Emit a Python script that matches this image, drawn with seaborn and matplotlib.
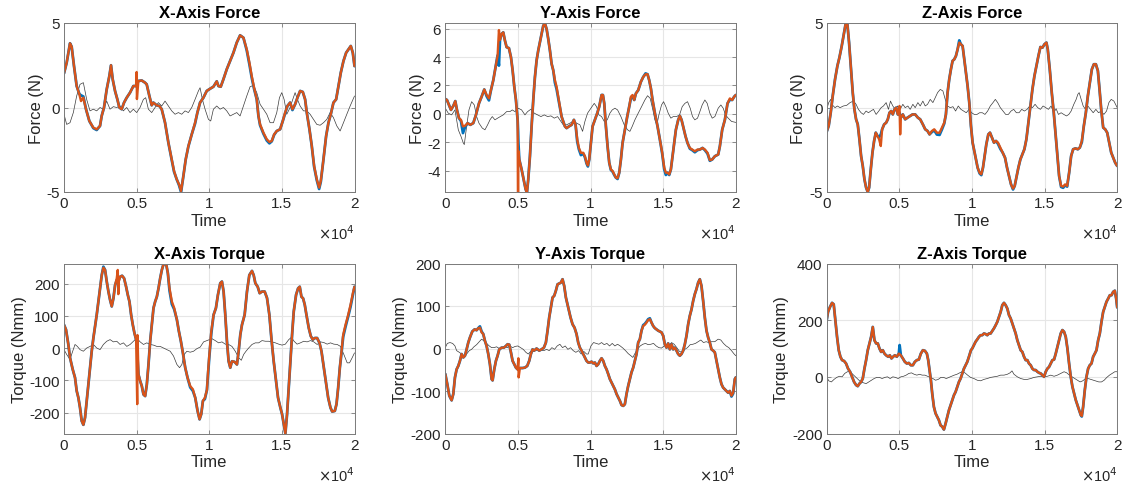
import matplotlib
matplotlib.use("Agg")
import matplotlib.pyplot as plt
from matplotlib.ticker import FuncFormatter, FixedLocator
import seaborn as sns

# ---------------- X-axis force ----------------
t_fx = [0, 184, 413, 528, 689, 872, 1056, 1171, 1332, 1515,
        1745, 2020, 2250, 2480, 2594, 2755, 2939, 3122, 3237, 3352,
        3513, 3674, 3811, 3972, 4133, 4316, 4546, 4776, 4959, 5000,
        5020, 5120, 5350, 5579, 5694, 5878, 6038, 6153, 6383, 6567,
        6727, 6957, 7186, 7416, 7577, 7760, 7921, 8059, 8220, 8380,
        8564, 8794, 9023, 9184, 9368, 9597, 9827, 10056, 10286, 10516,
        10630, 10791, 10975, 11204, 11434, 11664, 11893, 12123, 12353, 12582,
        12766, 12926, 13087, 13271, 13386, 13500, 13730, 13960, 14143, 14304,
        14465, 14648, 14878, 15062, 15222, 15383, 15567, 15728, 15911, 16072,
        16256, 16440, 16600, 16715, 16899, 17059, 17220, 17404, 17564, 17679,
        17863, 18046, 18207, 18368, 18551, 18735, 18896, 19057, 19240, 19424,
        19585, 19746, 19883, 20000]
fx_meas = [2.02, 2.65, 3.8, 3.6, 2.45, 1.27, 0.8, 0.72, 0.65, -0.1,
           -0.8, -1.22, -1.33, -1.09, -0.5, 0.0, 1.07, 1.86, 2.5, 1.67,
           0.98, 0.48, 0.0, -0.1, 0.29, 0.58, 0.88, 1.27, 1.27, 1.3,
           1.35, 1.57, 1.6, 1.47, 1.37, 0.68, 0.13, 0.29, 0.13, 0.09,
           -0.1, -0.9, -2.08, -3.1, -3.8, -4.25, -4.6, -5.0, -4.05, -3.07,
           -2.3, -1.59, -0.95, -0.3, 0.29, 0.58, 0.98, 1.11, 1.23, 1.55,
           1.27, 1.23, 1.67, 2.26, 2.75, 3.24, 3.84, 4.27, 4.13, 3.38,
           2.55, 1.76, 1.1, 0.48, -0.5, -1.05, -1.55, -1.95, -2.12, -2.0,
           -1.62, -1.39, -1.29, -0.8, -0.35, 0.09, 0.29, -0.15, 0.19, 0.58,
           0.98, 0.92, 0.48, -0.3, -1.29, -2.28, -3.5, -4.3, -4.82, -4.4,
           -3.07, -1.69, -0.9, -0.4, 0.29, 0.48, 1.27, 2.06, 2.75, 3.24,
           3.44, 3.64, 3.24, 2.45]
fx_pred = [2.02, 2.65, 3.8, 3.6, 2.45, 1.27, 0.78, 0.38, 0.58, -0.1,
           -0.8, -1.19, -1.29, -1.09, -0.5, 0.0, 1.07, 1.86, 2.5, 1.67,
           0.98, 0.48, 0.0, -0.1, 0.29, 0.58, 0.88, 1.27, 1.27, 2.1,
           0.5, 1.57, 1.6, 1.47, 1.37, 0.68, 0.13, 0.29, 0.13, 0.09,
           -0.1, -0.9, -2.08, -3.07, -3.76, -4.25, -4.55, -4.94, -4.05, -3.07,
           -2.28, -1.59, -0.9, -0.3, 0.29, 0.58, 0.98, 1.11, 1.23, 1.55,
           1.27, 1.23, 1.67, 2.26, 2.75, 3.24, 3.84, 4.27, 4.13, 3.44,
           2.65, 1.86, 1.17, 0.48, -0.5, -1.0, -1.49, -1.88, -2.04, -1.98,
           -1.59, -1.39, -1.29, -0.8, -0.3, 0.09, 0.29, -0.1, 0.19, 0.58,
           0.98, 0.92, 0.48, -0.3, -1.29, -2.28, -3.46, -4.25, -4.74, -4.35,
           -3.07, -1.69, -0.9, -0.4, 0.29, 0.48, 1.27, 2.06, 2.75, 3.24,
           3.44, 3.64, 3.24, 2.45]
t_fx_err = [0, 184, 413, 643, 872, 1102, 1332, 1561, 1791, 2020,
            2250, 2480, 2709, 2939, 3168, 3398, 3628, 3857, 4087, 4316,
            4546, 4776, 5005, 5235, 5464, 5625, 5809, 6038, 6268, 6498,
            6727, 6957, 7186, 7416, 7646, 7875, 8105, 8334, 8564, 8794,
            9023, 9253, 9368, 9528, 9712, 9942, 10102, 10286, 10516, 10745,
            10975, 11204, 11434, 11664, 11893, 12123, 12353, 12582, 12812, 13041,
            13271, 13500, 13730, 13960, 14189, 14419, 14648, 14832, 14993, 15154,
            15337, 15567, 15751, 15911, 16072, 16256, 16486, 16715, 16945, 17174,
            17404, 17633, 17863, 18093, 18322, 18551, 18781, 19011, 19240, 19470,
            19700, 20000]
fx_err = [-0.4, -1.0, -0.9, -0.3, 0.68, 1.37, 1.47, 0.48, -0.2, -0.1,
          -0.2, 0.0, -0.1, 0.38, -0.1, 0.05, 0.0, 0.09, -0.2, 0.0,
          -0.3, -0.1, -0.3, 0.0, 0.48, 0.58, -0.1, -0.3, 0.0, 0.29,
          0.09, 0.38, 0.09, -0.2, -0.4, -0.3, -0.4, -0.2, -0.3, 0.0,
          0.48, 0.98, 1.17, 0.48, -0.1, -0.7, -0.8, -0.1, 0.09, -0.1,
          0.0, -0.2, -0.5, -0.4, -0.3, -0.5, 0.09, 0.68, 1.23, 1.31,
          0.88, 0.19, -0.1, -0.4, -0.9, -0.9, -0.3, 0.58, 0.88, 0.48,
          -0.4, 0.0, 0.48, 0.88, 0.48, 0.09, -0.2, -0.2, -0.4, -0.7,
          -1.0, -1.05, -0.9, -0.7, -0.3, -0.6, -1.09, -1.39, -0.9, -0.4,
          0.09, 0.68]

# ---------------- Y-axis force ----------------
t_fy = [0, 115, 252, 390, 550, 688, 803, 941, 1078, 1216,
        1353, 1537, 1720, 1927, 2110, 2317, 2500, 2684, 2845, 3005,
        3143, 3303, 3464, 3602, 3693, 3762, 3877, 3991, 4106, 4221,
        4381, 4519, 4634, 4749, 4863, 4978, 5010, 5030, 5093, 5253,
        5414, 5529, 5620, 5712, 5827, 5941, 6056, 6171, 6286, 6400,
        6515, 6630, 6744, 6859, 6974, 7088, 7203, 7318, 7432, 7547,
        7662, 7776, 7891, 8006, 8121, 8236, 8350, 8511, 8694, 8855,
        8969, 9084, 9199, 9336, 9497, 9612, 9727, 9818, 9910, 10025,
        10139, 10300, 10461, 10598, 10759, 10851, 10943, 11057, 11172, 11287,
        11401, 11516, 11631, 11745, 11860, 11975, 12090, 12204, 12365, 12525,
        12663, 12778, 12892, 13007, 13122, 13282, 13466, 13626, 13787, 13924,
        14039, 14154, 14268, 14429, 14613, 14774, 14934, 15072, 15186, 15301,
        15416, 15530, 15645, 15760, 15874, 16035, 16150, 16265, 16402, 16539,
        16677, 16837, 16998, 17181, 17365, 17526, 17709, 17870, 18054, 18214,
        18375, 18559, 18788, 18903, 19063, 19247, 19430, 19591, 19751, 19889,
        20000]
fy_meas = [1.05, 0.98, 0.63, 0.28, 0.56, 0.9, 0.28, -0.3, -0.5, -1.35,
           -0.95, -0.65, -0.77, -0.65, -0.07, 0.74, 1.21, 1.72, 1.25, 0.95,
           1.67, 2.37, 3.3, 4.12, 3.4, 5.2, 5.63, 5.74, 5.16, 4.7,
           4.63, 4.0, 3.07, 1.91, 0.98, -0.42, -1.23, -2.0, -3.21, -3.91,
           -4.72, -5.3, -5.55, -4.6, -2.98, -0.88, 0.98, 2.6, 3.77, 4.47,
           5.05, 5.63, 6.21, 6.37, 5.98, 5.28, 4.47, 3.53, 3.07, 2.2,
           1.75, 1.1, 0.45, -0.19, -0.53, -0.88, -1.0, -0.88, -0.77, -0.42,
           -0.77, -1.95, -2.5, -2.9, -2.8, -3.05, -3.5, -3.7, -3.21, -2.05,
           -0.88, -0.42, 0.05, 0.51, 1.33, 1.33, 0.74, -0.88, -2.28, -3.44,
           -3.95, -4.06, -4.3, -4.49, -4.58, -4.14, -3.21, -2.05, -1.12, -0.19,
           0.51, 1.1, 1.25, 0.98, 1.44, 1.67, 2.26, 2.6, 2.85, 2.79,
           2.37, 1.79, 0.98, 0.05, -0.88, -1.81, -2.8, -3.9, -4.3, -4.14,
           -4.3, -3.91, -2.98, -2.05, -1.12, -0.42, -0.14, -0.42, -1.0, -1.58,
           -2.05, -2.45, -2.55, -2.7, -2.55, -2.51, -2.4, -2.55, -2.8, -3.3,
           -3.21, -2.98, -2.86, -2.28, -1.12, -0.42, 0.74, 1.0, 0.98, 1.21,
           1.33]
fy_pred = [1.05, 0.98, 0.63, 0.28, 0.56, 0.9, 0.28, -0.3, -0.42, -0.88,
           -0.84, -0.65, -0.77, -0.65, -0.07, 0.74, 1.21, 1.72, 1.33, 1.09,
           1.67, 2.37, 3.3, 4.12, 5.9, 5.2, 5.63, 5.74, 5.16, 4.7,
           4.63, 4.0, 3.07, 1.91, 0.98, -0.42, -8.0, -2.6, -3.21, -3.91,
           -4.72, -5.3, -5.55, -4.6, -2.98, -0.88, 0.98, 2.6, 3.77, 4.47,
           5.05, 5.63, 6.21, 6.37, 5.98, 5.28, 4.47, 3.53, 3.07, 2.37,
           1.91, 1.21, 0.51, -0.19, -0.53, -0.88, -1.0, -0.88, -0.77, -0.42,
           -0.77, -1.81, -2.4, -2.74, -2.74, -2.98, -3.44, -3.63, -3.21, -2.05,
           -0.88, -0.42, 0.05, 0.51, 1.33, 1.33, 0.74, -0.88, -2.28, -3.44,
           -3.91, -4.02, -4.26, -4.49, -4.53, -4.14, -3.21, -2.05, -1.12, -0.19,
           0.51, 1.21, 1.33, 0.98, 1.44, 1.67, 2.26, 2.6, 2.79, 2.79,
           2.37, 1.79, 0.98, 0.05, -0.88, -1.81, -2.74, -3.79, -4.14, -4.14,
           -4.26, -3.91, -2.98, -2.05, -1.12, -0.42, -0.14, -0.42, -1.0, -1.58,
           -2.05, -2.4, -2.51, -2.63, -2.51, -2.51, -2.4, -2.51, -2.74, -3.26,
           -3.21, -2.98, -2.86, -2.28, -1.12, -0.42, 0.74, 1.09, 0.98, 1.21,
           1.33]
t_fy_err = [0, 206, 436, 665, 895, 1078, 1239, 1308, 1468, 1629,
            1812, 1996, 2156, 2317, 2546, 2730, 2913, 3074, 3235, 3418,
            3602, 3785, 3991, 4221, 4450, 4611, 4794, 5024, 5253, 5483,
            5666, 5895, 6125, 6354, 6584, 6813, 7043, 7272, 7501, 7731,
            7960, 8121, 8350, 8580, 8809, 9038, 9268, 9451, 9612, 9795,
            10025, 10254, 10415, 10575, 10759, 10943, 11149, 11333, 11493, 11677,
            11860, 12090, 12319, 12548, 12709, 12869, 13053, 13282, 13512, 13741,
            13924, 14108, 14291, 14429, 14567, 14705, 14888, 15026, 15186, 15347,
            15530, 15691, 15920, 16127, 16311, 16494, 16677, 16861, 17021, 17181,
            17365, 17526, 17686, 17870, 18031, 18214, 18375, 18559, 18788, 18972,
            19132, 19293, 19476, 19706, 20000]
fy_err = [0.4, 0.05, -0.07, 0.28, -1.12, -1.58, -2.05, -2.16, -0.88, 0.28,
          0.86, 0.63, -0.19, -0.65, -1.0, -1.12, -0.77, -0.42, -0.19, -0.42,
          -0.3, -0.19, -0.07, 0.16, 0.16, 0.28, 0.16, 0.4, 0.28, -0.07,
          0.16, 0.33, 0.05, -0.07, -0.19, -0.07, -0.19, -0.14, -0.3, -0.19,
          -0.53, -0.77, -0.77, -0.65, -0.53, -0.65, -0.77, -1.23, -0.53, 0.05,
          0.4, 0.74, 0.51, -0.07, -0.19, -0.53, -0.42, 0.05, 0.28, 0.4,
          0.28, -0.19, -0.77, -1.12, -1.23, -0.88, -0.42, 0.05, 0.51, 0.98,
          1.28, 1.09, 0.28, -0.42, -0.77, -0.07, 0.63, 0.86, 0.51, 0.05,
          -0.3, -0.19, -0.19, -0.07, 0.51, 0.74, 0.86, 0.4, -0.19, -0.42,
          -0.3, 0.16, 0.63, 0.98, 0.74, 0.05, -0.3, -0.19, 0.4, 0.63,
          0.4, -0.07, -0.3, -0.53, -0.6]

# ---------------- Z-axis force ----------------
t_fz = [0, 138, 276, 414, 575, 736, 874, 1035, 1195, 1310,
        1425, 1540, 1678, 1793, 1908, 2023, 2138, 2253, 2368, 2483,
        2598, 2713, 2828, 2920, 3035, 3150, 3264, 3379, 3494, 3609,
        3724, 3816, 3954, 4092, 4207, 4322, 4437, 4552, 4667, 4782,
        4897, 5012, 5058, 5104, 5242, 5403, 5564, 5748, 5909, 6092,
        6276, 6437, 6621, 6782, 6943, 7081, 7242, 7403, 7587, 7771,
        7932, 8092, 8207, 8322, 8437, 8552, 8667, 8782, 8897, 9012,
        9127, 9242, 9357, 9472, 9587, 9701, 9816, 9931, 10046, 10161,
        10276, 10391, 10529, 10644, 10759, 10874, 10989, 11127, 11242, 11380,
        11518, 11656, 11794, 11955, 12116, 12277, 12415, 12553, 12691, 12829,
        12943, 13058, 13196, 13334, 13472, 13610, 13748, 13886, 14024, 14162,
        14300, 14438, 14576, 14714, 14852, 14990, 15128, 15219, 15357, 15495,
        15633, 15771, 15886, 16001, 16139, 16277, 16415, 16553, 16691, 16829,
        16967, 17128, 17289, 17427, 17565, 17703, 17841, 17979, 18117, 18255,
        18393, 18531, 18669, 18784, 18899, 19036, 19174, 19312, 19450, 19588,
        19726, 19864, 20000]
fz_meas = [-1.43, -1.09, -0.31, 0.68, 1.67, 2.46, 2.95, 3.64, 4.43, 4.98,
           4.92, 3.84, 2.26, 0.88, -0.11, -0.7, -1.0, -1.88, -2.87, -3.46,
           -4.25, -4.74, -5.0, -4.74, -3.66, -2.67, -1.98, -1.49, -1.68, -1.75,
           -1.6, -1.29, -1.0, -0.9, -0.7, -0.31, -0.21, -0.41, -0.11, -0.01,
           -0.41, -0.3, -0.5, -0.6, -0.41, -0.7, -0.6, -0.5, -0.41, -0.41,
           -0.6, -0.7, -1.0, -1.29, -1.39, -1.59, -1.45, -1.35, -1.6, -1.62,
           -1.3, -0.95, -0.41, 0.88, 1.67, 2.26, 2.76, 2.85, 3.05, 3.44,
           3.97, 3.74, 3.64, 2.85, 2.06, 1.27, 0.29, -1.09, -2.08, -2.57,
           -3.07, -3.56, -3.9, -4.0, -3.56, -2.87, -2.18, -1.59, -1.49, -1.78,
           -2.08, -1.98, -2.15, -2.45, -2.67, -2.97, -3.56, -4.05, -4.55, -4.85,
           -4.64, -4.15, -3.56, -3.07, -2.77, -2.47, -1.88, -0.9, 0.09, 1.07,
           1.86, 2.46, 3.05, 3.58, 3.54, 3.74, 3.84, 3.44, 2.26, 0.88,
           -0.31, -1.69, -2.87, -4.05, -4.7, -4.75, -4.6, -4.68, -3.86, -2.87,
           -2.47, -2.42, -2.47, -2.37, -2.05, -1.09, -0.31, 0.68, 1.47, 2.26,
           2.56, 2.56, 2.17, 1.07, -0.11, -1.19, -1.29, -1.49, -2.08, -2.67,
           -2.97, -3.27, -3.46]
fz_pred = [-1.43, -1.09, -0.31, 0.68, 1.67, 2.46, 2.95, 3.64, 4.43, 4.98,
           4.92, 3.84, 2.26, 0.88, -0.11, -0.7, -1.0, -1.88, -2.87, -3.46,
           -4.25, -4.74, -5.0, -4.74, -3.66, -2.67, -1.98, -1.49, -1.68, -1.88,
           -2.28, -1.29, -1.0, -0.9, -0.7, -0.31, -0.21, -0.41, -0.11, -0.01,
           -0.41, 0.09, -1.59, -0.6, -0.41, -0.7, -0.6, -0.5, -0.41, -0.41,
           -0.6, -0.7, -1.0, -1.29, -1.39, -1.59, -1.39, -1.29, -1.49, -1.49,
           -1.19, -0.9, -0.41, 0.88, 1.67, 2.26, 2.76, 2.85, 3.05, 3.44,
           3.84, 3.74, 3.64, 2.85, 2.06, 1.27, 0.29, -1.09, -2.08, -2.57,
           -3.07, -3.56, -3.86, -3.95, -3.56, -2.87, -2.18, -1.59, -1.49, -1.78,
           -2.08, -1.98, -2.08, -2.37, -2.67, -2.97, -3.56, -4.05, -4.55, -4.8,
           -4.64, -4.15, -3.56, -3.07, -2.77, -2.47, -1.88, -0.9, 0.09, 1.07,
           1.86, 2.46, 3.05, 3.58, 3.54, 3.74, 3.84, 3.44, 2.26, 0.88,
           -0.31, -1.69, -2.87, -4.05, -4.64, -4.68, -4.55, -4.64, -3.86, -2.87,
           -2.47, -2.42, -2.47, -2.37, -1.98, -1.09, -0.31, 0.68, 1.47, 2.26,
           2.56, 2.56, 2.17, 1.07, -0.11, -1.19, -1.29, -1.49, -2.08, -2.67,
           -2.97, -3.27, -3.46]
t_fz_err = [0, 138, 276, 414, 575, 736, 920, 1150, 1379, 1609,
            1839, 2023, 2184, 2368, 2529, 2713, 2874, 3035, 3219, 3403,
            3586, 3747, 3908, 4092, 4253, 4391, 4552, 4713, 4874, 5058,
            5242, 5403, 5587, 5748, 5932, 6092, 6276, 6437, 6621, 6782,
            6943, 7127, 7311, 7472, 7633, 7817, 8000, 8161, 8322, 8506,
            8690, 8874, 9058, 9242, 9426, 9610, 9794, 9977, 10161, 10345,
            10529, 10713, 10897, 11081, 11265, 11449, 11610, 11771, 11955, 12139,
            12323, 12507, 12691, 12875, 13058, 13242, 13426, 13610, 13794, 13978,
            14162, 14346, 14530, 14714, 14898, 15082, 15265, 15449, 15633, 15794,
            15955, 16139, 16323, 16507, 16668, 16829, 17013, 17174, 17289, 17381,
            17519, 17657, 17818, 17979, 18163, 18347, 18531, 18715, 18899, 19082,
            19266, 19427, 19588, 19772, 20000]
fz_err = [-0.11, 0.29, 0.48, 0.13, -0.01, 0.09, -0.01, 0.09, 0.13, 0.29,
          0.38, 0.19, -0.11, -0.31, -0.41, -0.21, -0.31, -0.21, -0.11, -0.41,
          -0.21, -0.01, 0.09, 0.29, -0.11, 0.38, 0.09, -0.11, 0.09, -0.11,
          0.19, -0.01, 0.09, -0.11, 0.19, -0.01, 0.29, 0.09, 0.38, 0.09,
          0.19, 0.48, 0.29, 0.58, 0.88, 1.07, 0.98, 0.48, 0.09, -0.01,
          0.05, -0.21, 0.09, -0.11, -0.21, -0.31, -0.11, -0.31, -0.41, -0.41,
          -0.31, -0.31, -0.41, -0.21, 0.09, 0.29, 0.48, 0.29, -0.01, -0.21,
          -0.41, -0.41, -0.21, -0.11, -0.31, -0.31, -0.11, -0.21, -0.11, 0.09,
          -0.01, 0.19, -0.01, -0.11, 0.09, -0.01, -0.11, 0.09, -0.31, -0.07,
          -0.41, -0.31, -0.41, -0.5, -0.41, -0.21, 0.19, 0.48, 0.78, 0.88,
          0.48, 0.09, -0.11, 0.09, -0.11, -0.31, -0.11, -0.31, -0.21, -0.41,
          -0.21, 0.29, 0.48, 0.38, -0.01]

# ---------------- X-axis torque ----------------
t_tx = [0, 138, 299, 414, 598, 759, 874, 989, 1103, 1218,
        1333, 1448, 1563, 1678, 1793, 1908, 2023, 2138, 2253, 2368,
        2483, 2598, 2713, 2828, 2943, 3058, 3173, 3287, 3402, 3517,
        3632, 3701, 3740, 3770, 3862, 4000, 4138, 4276, 4391, 4506,
        4621, 4736, 4851, 4966, 5040, 5060, 5127, 5242, 5357, 5472,
        5587, 5702, 5817, 5932, 6047, 6162, 6277, 6392, 6506, 6621,
        6736, 6851, 7035, 7150, 7265, 7426, 7587, 7771, 7909, 8047,
        8185, 8346, 8506, 8690, 8874, 9035, 9196, 9334, 9449, 9564,
        9700, 9840, 9920, 10000, 10140, 10299, 10460, 10598, 10759, 10874,
        10988, 11103, 11218, 11333, 11448, 11563, 11747, 11908, 12023, 12138,
        12253, 12437, 12598, 12759, 12943, 13058, 13173, 13334, 13472, 13633,
        13816, 13977, 14138, 14276, 14437, 14598, 14736, 14897, 15012, 15127,
        15242, 15357, 15472, 15587, 15702, 15817, 15978, 16116, 16231, 16346,
        16461, 16576, 16691, 16852, 16990, 17128, 17266, 17427, 17588, 17726,
        17887, 18048, 18186, 18347, 18462, 18646, 18761, 18876, 18991, 19106,
        19221, 19382, 19566, 19727, 19888, 20000]
tx_meas = [72, 57, 11, -30, -66, -92, -133, -154, -185, -226,
           -238, -216, -164, -113, -61, -10, 31, 67, 103, 144,
           185, 226, 252, 242, 206, 175, 149, 129, 154, 195,
           210, 214, 212, 210, 221, 224, 216, 190, 165, 144,
           103, 72, 46, 26, 0, -30, -82, -102, -118, -144,
           -149, -113, -51, 21, 72, 124, 144, 159, 185, 216,
           242, 260, 260, 232, 178, 136, 120, 88, 52, 21,
           -15, -61, -92, -122, -133, -154, -195, -221, -205, -164,
           -158, -130, -80, -30, 45, 103, 124, 165, 201, 206,
           175, 103, 21, -41, -61, -41, -43, -51, -10, 41,
           72, 103, 175, 226, 239, 226, 201, 190, 170, 175,
           175, 155, 103, 31, -41, -102, -154, -185, -205, -236,
           -265, -205, -123, -41, 41, 113, 165, 185, 190, 159,
           154, 134, 103, 62, 37, 26, 31, 31, 16, -10,
           -61, -113, -154, -185, -197, -195, -174, -123, -61, -15,
           35, 66, 98, 128, 165, 190]
tx_pred = [72, 57, 11, -30, -66, -92, -133, -154, -185, -226,
           -238, -216, -164, -113, -61, -10, 31, 67, 103, 144,
           185, 226, 249, 242, 206, 175, 149, 129, 154, 195,
           216, 242, 167, 206, 221, 224, 216, 190, 165, 144,
           103, 72, 46, 26, -174, 40, -82, -102, -118, -144,
           -149, -113, -51, 21, 72, 124, 144, 159, 185, 216,
           242, 260, 260, 232, 185, 144, 124, 88, 52, 21,
           -15, -61, -92, -118, -128, -154, -195, -221, -205, -164,
           -154, -130, -72, -25, 52, 103, 124, 165, 201, 206,
           175, 103, 21, -41, -61, -41, -43, -51, -10, 41,
           72, 103, 175, 226, 239, 226, 201, 190, 170, 175,
           175, 155, 103, 31, -41, -102, -154, -185, -205, -236,
           -265, -205, -123, -41, 41, 113, 165, 185, 190, 159,
           154, 134, 103, 62, 37, 26, 31, 31, 16, -10,
           -61, -113, -154, -185, -197, -195, -174, -123, -61, -10,
           41, 72, 103, 134, 170, 190]
t_tx_err = [0, 184, 414, 598, 759, 920, 1103, 1333, 1563, 1793,
            2023, 2253, 2483, 2713, 2943, 3173, 3402, 3632, 3862, 4092,
            4322, 4552, 4782, 5012, 5242, 5472, 5702, 5932, 6162, 6392,
            6621, 6851, 7081, 7311, 7541, 7771, 7955, 8116, 8277, 8461,
            8690, 8920, 9150, 9380, 9610, 9840, 10184, 10414, 10644, 10874,
            11103, 11333, 11563, 11793, 12023, 12207, 12368, 12529, 12713, 12943,
            13173, 13403, 13633, 13862, 14092, 14322, 14552, 14782, 15012, 15242,
            15472, 15656, 15840, 16047, 16277, 16507, 16737, 16967, 17197, 17427,
            17657, 17887, 18117, 18347, 18577, 18807, 19037, 19267, 19497, 19658,
            19842, 20000]
tx_err = [-5, -20, -35, -10, 11, 5, -5, -10, 0, 5,
          11, 0, -5, 11, 21, 26, 19, 21, 11, 16,
          5, 11, 21, 31, 19, 11, 16, 11, 9, 5,
          5, 0, -5, -10, -25, -51, -61, -51, -20, -10,
          -13, -10, -2, 3, 19, 23, 29, 23, 16, 19,
          12, 11, 5, -10, -30, -38, -20, -10, 0, 11,
          16, 16, 23, 21, 21, 19, 16, 12, 9, 12,
          26, 33, 21, 12, 16, 21, 19, 23, 19, 11,
          19, 17, 12, 16, 12, 11, 5, -20, -46, -46,
          -30, -15]

# ---------------- Y-axis torque ----------------
t_ty = [0, 138, 275, 436, 550, 665, 780, 894, 1009, 1124,
        1238, 1353, 1468, 1582, 1697, 1857, 2018, 2155, 2270, 2385,
        2499, 2614, 2729, 2843, 2958, 3073, 3188, 3257, 3371, 3486,
        3600, 3715, 3875, 4036, 4173, 4288, 4403, 4518, 4632, 4747,
        4862, 4976, 5030, 5050, 5136, 5320, 5480, 5641, 5778, 5893,
        6008, 6122, 6283, 6466, 6627, 6788, 6925, 7040, 7154, 7269,
        7384, 7499, 7613, 7728, 7843, 7957, 8072, 8187, 8302, 8462,
        8623, 8760, 8898, 9035, 9150, 9264, 9379, 9494, 9608, 9723,
        9840, 9955, 10070, 10184, 10299, 10414, 10528, 10643, 10758, 10872,
        10987, 11101, 11216, 11331, 11445, 11560, 11675, 11789, 11904, 12019,
        12133, 12248, 12363, 12477, 12592, 12707, 12821, 12936, 13051, 13165,
        13280, 13395, 13509, 13624, 13738, 13853, 13968, 14082, 14197, 14312,
        14426, 14541, 14656, 14771, 14885, 15000, 15115, 15230, 15344, 15459,
        15574, 15688, 15803, 15918, 16032, 16147, 16261, 16376, 16491, 16606,
        16720, 16835, 16950, 17064, 17179, 17294, 17408, 17523, 17638, 17752,
        17867, 17982, 18096, 18211, 18326, 18440, 18555, 18670, 18784, 18899,
        19014, 19128, 19243, 19358, 19473, 19587, 19702, 19817, 19932, 20000]
ty_meas = [-60, -84, -111, -122, -107, -68, -49, -41, -29, -13,
           -21, -17, -2, 14, 26, 40, 45, 43, 48, 52,
           40, 34, 18, 6, -13, -37, -72, -75, -49, -29,
           -17, -2, 2, 2, 6, 10, 9, -9, -29, -37,
           -45, -49, -48, -48, -46, -46, -45, -41, -29, -13,
           -2, -5, 0, -5, -2, 2, 14, 42, 73, 96,
           120, 124, 136, 151, 153, 155, 163, 147, 120, 96,
           73, 57, 49, 34, 14, 2, -5, -13, -21, -29,
           -33, -33, -31, -35, -33, -41, -37, -29, -23, -29,
           -41, -49, -60, -72, -80, -88, -96, -107, -115, -123,
           -133, -135, -131, -107, -88, -72, -56, -45, -29, -13,
           14, 22, 42, 55, 58, 63, 69, 71, 61, 53,
           48, 45, 42, 40, 38, 30, 10, 2, 12, -2,
           10, -2, 2, -5, -13, -17, -13, -5, 10, 30,
           57, 77, 92, 112, 128, 140, 155, 163, 147, 112,
           73, 42, 26, 14, -2, -5, -9, -29, -49, -68,
           -84, -92, -96, -100, -104, -100, -113, -106, -72, -68]
ty_pred = [-60, -84, -111, -122, -107, -68, -49, -41, -29, -13,
           -21, -17, -2, 14, 26, 40, 45, 43, 48, 49,
           38, 34, 18, 6, -13, -37, -72, -75, -49, -29,
           -17, -2, 2, 2, 6, 10, 9, -9, -29, -37,
           -45, -49, -23, -68, -46, -46, -45, -41, -29, -13,
           -2, -5, 0, -5, -2, 2, 14, 42, 73, 96,
           120, 124, 136, 151, 153, 155, 163, 147, 120, 96,
           73, 57, 49, 34, 14, 2, -5, -13, -21, -29,
           -33, -33, -31, -35, -33, -41, -37, -29, -23, -29,
           -41, -49, -60, -72, -80, -88, -96, -107, -115, -123,
           -133, -135, -131, -107, -88, -72, -56, -45, -29, -13,
           14, 22, 42, 53, 56, 61, 67, 69, 61, 53,
           48, 45, 42, 40, 38, 30, 10, 2, 12, -2,
           10, -2, 2, -5, -13, -17, -13, -5, 10, 30,
           57, 77, 92, 112, 128, 140, 155, 163, 147, 112,
           73, 42, 26, 14, -2, -5, -9, -29, -49, -68,
           -84, -92, -96, -100, -104, -100, -111, -104, -72, -68]
t_ty_err = [0, 138, 321, 504, 665, 780, 963, 1124, 1284, 1468,
            1651, 1811, 1972, 2155, 2339, 2499, 2660, 2843, 3027, 3188,
            3348, 3531, 3715, 3898, 4082, 4265, 4449, 4632, 4815, 4999,
            5182, 5366, 5549, 5710, 5870, 6054, 6237, 6420, 6604, 6787,
            6971, 7154, 7338, 7521, 7705, 7888, 8072, 8255, 8439, 8622,
            8805, 8989, 9172, 9356, 9539, 9723, 9840, 10024, 10207, 10391,
            10574, 10758, 10941, 11125, 11308, 11492, 11675, 11858, 12042, 12225,
            12408, 12592, 12775, 12913, 13051, 13234, 13418, 13601, 13784, 13968,
            14151, 14335, 14518, 14702, 14885, 15069, 15230, 15390, 15574, 15757,
            15940, 16124, 16307, 16491, 16674, 16858, 17041, 17225, 17408, 17592,
            17775, 17959, 18142, 18326, 18555, 18784, 18968, 19151, 19335, 19519,
            19702, 19886, 20000]
ty_err = [2, 12, 14, 12, 6, -5, -9, -13, -21, -13,
          -5, -2, 4, 9, 16, 22, 18, 12, 6, 2,
          2, 4, 0, 2, 5, 2, 6, 2, 5, 6,
          2, -2, -9, -13, -7, -2, -5, -2, -4, -5,
          -2, -5, 2, -2, 6, 10, 2, 6, -2, 2,
          -5, -9, -5, -13, -7, -13, -13, 6, 14, 12,
          10, 14, 9, 12, 6, 12, 6, 10, 6, 1,
          -5, -12, -17, -21, -12, -2, 6, 10, 12, 9,
          10, 12, 6, 2, 1, 6, 10, 6, 14, 10,
          2, -7, -9, -2, 2, 9, 10, 12, 16, 20,
          14, 16, 14, 16, 16, 22, 20, 12, 6, 2,
          -5, -13, -17]

# ---------------- Z-axis torque ----------------
t_tz = [0, 92, 230, 368, 483, 598, 713, 828, 943, 1058,
        1196, 1333, 1471, 1609, 1747, 1885, 2023, 2138, 2253, 2368,
        2483, 2598, 2713, 2828, 2943, 3058, 3173, 3287, 3402, 3517,
        3632, 3747, 3862, 3977, 4092, 4230, 4345, 4460, 4575, 4690,
        4828, 4966, 5020, 5104, 5242, 5380, 5518, 5655, 5793, 5931,
        6069, 6207, 6345, 6483, 6621, 6759, 6897, 6989, 7081, 7173,
        7265, 7380, 7495, 7610, 7725, 7840, 7955, 8070, 8185, 8300,
        8414, 8529, 8644, 8759, 8874, 8989, 9104, 9219, 9334, 9449,
        9564, 9679, 9794, 9932, 10021, 10136, 10251, 10366, 10481, 10596,
        10711, 10826, 10941, 11055, 11170, 11285, 11400, 11515, 11630, 11745,
        11860, 11975, 12090, 12205, 12320, 12435, 12550, 12665, 12780, 12895,
        13010, 13125, 13240, 13355, 13470, 13585, 13700, 13814, 13929, 14044,
        14159, 14274, 14389, 14504, 14619, 14734, 14849, 14964, 15079, 15194,
        15309, 15424, 15539, 15654, 15769, 15883, 15998, 16113, 16228, 16343,
        16458, 16573, 16688, 16803, 16918, 17033, 17148, 17263, 17378, 17493,
        17562, 17654, 17769, 17884, 17999, 18114, 18229, 18344, 18458, 18573,
        18688, 18803, 18918, 19033, 19148, 19263, 19378, 19493, 19608, 19723,
        19838, 19930, 20000]
tz_meas = [200, 229, 247, 261, 256, 200, 141, 94, 71, 59,
           56, 47, 29, 18, 0, -18, -29, -33, -24, -18,
           -6, 29, 59, 94, 118, 141, 176, 129, 118, 118,
           100, 88, 94, 82, 76, 71, 76, 65, 71, 76,
           71, 82, 112, 76, 65, 53, 47, 49, 41, 41,
           53, 59, 61, 82, 94, 92, 82, 59, 24, -12,
           -59, -106, -129, -141, -153, -171, -176, -186, -165, -141,
           -118, -100, -82, -65, -53, -35, -18, -6, 12, 29,
           41, 53, 71, 94, 100, 112, 124, 132, 141, 147,
           147, 153, 151, 147, 153, 153, 162, 171, 182, 194,
           212, 229, 253, 261, 253, 241, 218, 206, 188, 171,
           153, 129, 112, 94, 88, 71, 59, 59, 47, 41,
           29, 24, 24, 18, 14, 12, 6, 0, 18, 29,
           35, 47, 59, 61, 82, 106, 129, 153, 165, 159,
           141, 100, 47, 0, -35, -59, -82, -100, -118, -135,
           -140, -106, -47, 0, 29, 41, 47, 71, 82, 94,
           129, 153, 194, 229, 247, 265, 276, 288, 288, 300,
           304, 276, 245]
tz_pred = [200, 229, 247, 261, 256, 200, 141, 94, 71, 59,
           56, 47, 29, 18, 0, -18, -29, -33, -24, -18,
           -6, 29, 59, 94, 118, 141, 176, 129, 118, 118,
           100, 88, 94, 82, 76, 71, 76, 65, 71, 76,
           71, 82, 80, 76, 65, 53, 47, 49, 41, 41,
           53, 59, 61, 82, 94, 92, 82, 59, 24, -12,
           -59, -106, -129, -141, -153, -171, -176, -186, -165, -141,
           -118, -100, -82, -65, -53, -35, -18, -6, 12, 29,
           41, 53, 71, 94, 100, 112, 124, 132, 141, 147,
           147, 153, 151, 147, 153, 153, 162, 171, 182, 194,
           212, 229, 253, 261, 253, 241, 218, 206, 188, 171,
           153, 129, 112, 94, 88, 71, 59, 59, 47, 41,
           29, 24, 24, 18, 14, 12, 6, 0, 18, 29,
           35, 47, 59, 61, 82, 106, 129, 153, 165, 159,
           141, 100, 47, 0, -35, -59, -82, -100, -118, -135,
           -138, -106, -47, 0, 29, 41, 47, 71, 82, 94,
           129, 153, 194, 229, 247, 265, 276, 288, 288, 300,
           304, 276, 245]
t_tz_err = [0, 138, 322, 506, 690, 874, 1058, 1241, 1425, 1609,
            1793, 1977, 2161, 2345, 2529, 2713, 2897, 3081, 3265, 3448,
            3632, 3816, 4000, 4184, 4368, 4552, 4736, 4920, 5104, 5288,
            5472, 5655, 5839, 6023, 6207, 6391, 6575, 6759, 6943, 7127,
            7311, 7495, 7679, 7863, 8047, 8231, 8414, 8598, 8782, 8966,
            9150, 9334, 9518, 9702, 9906, 10136, 10366, 10596, 10826, 11055,
            11285, 11515, 11745, 11975, 12205, 12435, 12619, 12757, 12895, 13125,
            13355, 13585, 13814, 14044, 14274, 14504, 14734, 14964, 15194, 15424,
            15654, 15883, 16113, 16343, 16527, 16711, 16895, 17079, 17263, 17447,
            17631, 17815, 17999, 18183, 18367, 18550, 18734, 18918, 19102, 19286,
            19470, 19653, 19837, 20000]
tz_err = [0, -14, -18, -9, -2, 2, 0, 12, 18, 18,
          9, 0, -9, -18, -21, -24, -18, -12, -6, -2,
          -2, -6, -2, 0, -6, 0, -2, -6, 0, 2,
          6, 12, 14, 9, 6, 9, 6, 6, 2, -2,
          -6, -12, -9, -2, -2, -6, -2, 2, 6, 9,
          14, 18, 14, 6, -2, -6, -12, -14, -9, -6,
          -2, 0, 2, 6, 6, 9, 14, 21, 9, 0,
          -6, -9, -9, -6, -2, 0, 2, 0, 2, 6,
          2, 6, 12, 18, 14, 6, 0, -6, -12, -18,
          -14, -6, -6, -9, -12, -15, -18, -18, -12, -2,
          6, 12, 18, 18]

# Panel titles, axis labels, limits and ticks
titles = ["X-Axis Force", "Y-Axis Force", "Z-Axis Force",
          "X-Axis Torque", "Y-Axis Torque", "Z-Axis Torque"]
ylabels = ["Force (N)"] * 3 + ["Torque (Nmm)"] * 3
ylims = [(-5, 5), (-5.5, 6.4), (-5, 5),
         (-265, 262), (-200, 200), (-200, 400)]
yticks = [[-5, 0, 5], [-4, -2, 0, 2, 4, 6], [-5, 0, 5],
          [-200, -100, 0, 100, 200], [-200, -100, 0, 100, 200], [-200, 0, 200, 400]]
xticks = [0, 5000, 10000, 15000, 20000]
xlabel = "Time"

panels = [
    (t_fx, fx_meas, fx_pred, t_fx_err, fx_err),
    (t_fy, fy_meas, fy_pred, t_fy_err, fy_err),
    (t_fz, fz_meas, fz_pred, t_fz_err, fz_err),
    (t_tx, tx_meas, tx_pred, t_tx_err, tx_err),
    (t_ty, ty_meas, ty_pred, t_ty_err, ty_err),
    (t_tz, tz_meas, tz_pred, t_tz_err, tz_err),
]

sns.set_style("ticks")
plt.rcParams["font.family"] = ["Liberation Sans", "DejaVu Sans"]
plt.rcParams.update({
    "axes.unicode_minus": False,
    "xtick.direction": "in", "ytick.direction": "in",
    "xtick.top": True, "ytick.right": True,
    "xtick.major.size": 3, "ytick.major.size": 3,
    "xtick.major.width": 0.6, "ytick.major.width": 0.6,
    "axes.linewidth": 0.7,
})

C_MEAS = "#0072BD"
C_PRED = "#D95319"
C_ERR = "#3a3a3a"
TXT = "#262626"
BOX = "#7a7a7a"

fig = plt.figure(figsize=(11.25, 4.85), dpi=100)
W, H = 1125.0, 485.0
lefts = [64, 445.3, 826.7]
tops = [24, 264.5]
bottoms = [193, 434.5]
aw = 290.5

for i, (t, meas, pred, te, err) in enumerate(panels):
    r, c = divmod(i, 3)
    ax = fig.add_axes([lefts[c] / W, 1 - bottoms[r] / H,
                       aw / W, (bottoms[r] - tops[r]) / H])
    ax.grid(True, color="#e6e6e6", linewidth=0.8)
    ax.set_axisbelow(True)
    sns.lineplot(x=te, y=err, ax=ax, color=C_ERR, linewidth=0.5,
                 estimator=None, sort=False)
    sns.lineplot(x=t, y=meas, ax=ax, color=C_MEAS, linewidth=2.0,
                 estimator=None, sort=False)
    sns.lineplot(x=t, y=pred, ax=ax, color=C_PRED, linewidth=1.7,
                 estimator=None, sort=False)
    ax.set_xlim(0, 20000)
    ax.set_ylim(*ylims[i])
    ax.xaxis.set_major_locator(FixedLocator(xticks))
    ax.xaxis.set_major_formatter(FuncFormatter(lambda v, p: f"{v / 1e4:g}"))
    ax.yaxis.set_major_locator(FixedLocator(yticks[i]))
    ax.tick_params(labelsize=11, colors=BOX, labelcolor=TXT, pad=3)
    for s in ax.spines.values():
        s.set_color(BOX)
    ax.set_title(titles[i], fontsize=12, fontweight="bold", color="black", pad=4)
    ax.set_xlabel(xlabel, fontsize=12, color=TXT, labelpad=2)
    ax.set_ylabel(ylabels[i], fontsize=12, color=TXT, labelpad=2)
    ax.text(1.0, -0.24, r"$\times$10$^4$", transform=ax.transAxes,
            ha="right", va="center", fontsize=10.5, color=TXT)

fig.savefig("out.png", dpi=100)
